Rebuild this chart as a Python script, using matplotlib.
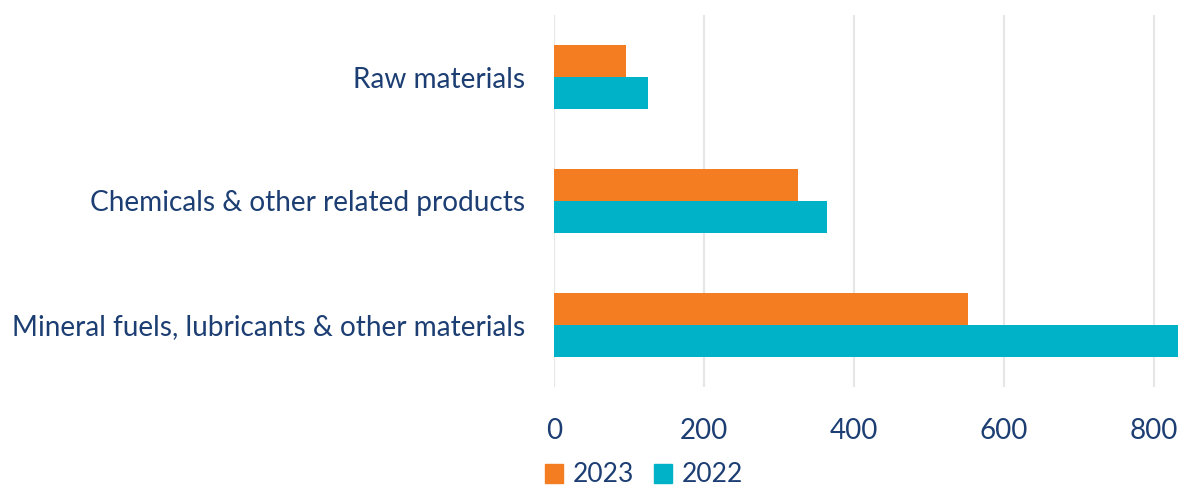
import matplotlib
matplotlib.use("Agg")
import matplotlib.pyplot as plt
import numpy as np
from matplotlib.patches import Patch

categories = ["Raw materials", "Chemicals & other related products",
              "Mineral fuels, lubricants & other materials"]
values_2023 = [96, 325, 552]
values_2022 = [125, 364, 835]
xticks = [0, 200, 400, 600, 800]

ORANGE = "#F47D22"
TEAL = "#00B2C8"
NAVY = "#1C3E73"
FONT = ["Lato", "DejaVu Sans"]

plt.rcParams['font.family'] = FONT

fig = plt.figure(figsize=(11.78, 4.88), dpi=100)
W, H = 1178, 488
ax = fig.add_axes([554 / W, 1 - 387 / H, (1178 - 554) / W, (387 - 15) / H])

y = np.arange(len(categories))
h = 0.262
ax.barh(y - h / 2, values_2023, height=h, color=ORANGE, zorder=3)
ax.barh(y + h / 2, values_2022, height=h, color=TEAL, zorder=3)

ax.set_ylim(2.5, -0.5)
ax.set_xlim(0, 832)
ax.set_xticks(xticks)
ax.set_xticklabels([str(t) for t in xticks])
ax.set_yticks(y)
ax.set_yticklabels(categories)
ax.tick_params(axis='x', length=0, pad=22, labelsize=20, labelcolor=NAVY)
ax.tick_params(axis='y', length=0, pad=21, labelsize=20.2, labelcolor=NAVY)
ax.grid(axis='x', color="#E6E6E6", linewidth=1.5, zorder=0)
for s in ax.spines.values():
    s.set_visible(False)

handles = [Patch(color=ORANGE, label="2023"), Patch(color=TEAL, label="2022")]
fig.legend(handles=handles, loc="center left", bbox_to_anchor=(545 / W, 1 - 475 / H),
           ncol=2, frameon=False, fontsize=19, labelcolor=NAVY,
           borderaxespad=0, borderpad=0,
           handlelength=0.7, handleheight=0.7, handletextpad=0.35, columnspacing=0.75)

fig.savefig("out.png", dpi=100)
